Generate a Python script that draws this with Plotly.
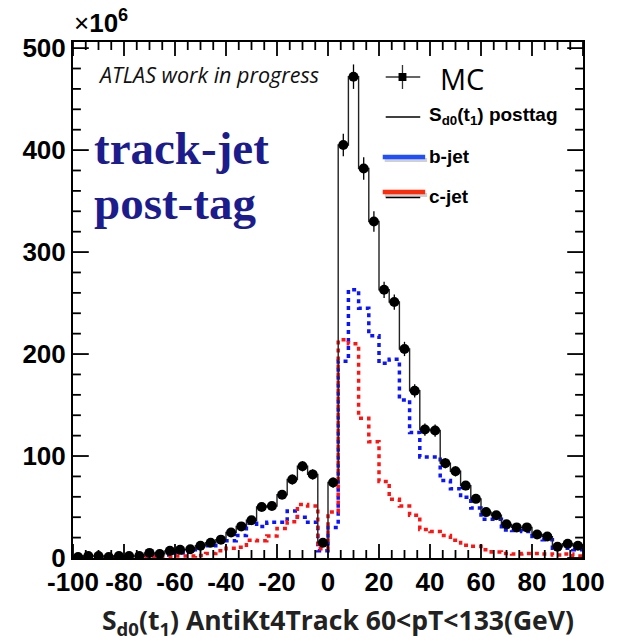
import plotly.graph_objects as go

# Binning of the S_d0(t1) distribution: 50 bins of width 4 between -100 and 100
bin_edges = list(range(-100, 101, 4))
bin_centers = [e + 2 for e in bin_edges[:-1]]

# Yields in units of 10^6
mc = [1, 2, 2, 1, 2, 2, 2, 5, 4, 7, 8, 8.5, 12, 15, 18, 25, 31, 37, 50, 51, 62, 77, 90, 82, 15,
      74, 405, 472, 382, 330, 263, 251, 205, 164, 126, 125, 93, 85, 71, 58, 45, 42, 33, 30, 30, 23, 21, 11, 14, 12]
mc_err = [0.5, 0.5, 0.5, 0.5, 0.5, 0.5, 0.5, 1, 1, 1, 1.5, 1.5, 2, 2, 2, 2.5, 3, 3, 4, 4, 4, 5, 5, 5, 2,
          5, 11, 12, 11, 10, 8, 7.5, 7, 6.5, 6, 6, 5, 5, 4.5, 4, 3.5, 3.5, 3, 3, 3, 2.5, 2.5, 2, 2, 2]
bjet = [1, 1, 1, 1, 1, 1, 1, 2, 2, 3, 5, 6, 11, 12, 17, 17, 22, 34, 31, 35, 35, 46, 40, 35, 7,
        30, 193, 263, 245, 218, 191, 195, 155, 123, 99, 99, 76, 68, 59.5, 49, 38, 38, 27.5, 27, 26, 21, 18, 9.5, 9.5, 8]
cjet = [0.5, 0.5, 0.5, 0.5, 0.5, 1, 1, 1, 1, 1, 2, 2, 2.5, 4.5, 7, 9.5, 10.5, 17.5, 17, 21.5, 29, 35.5, 52.5, 51, 9,
        45, 214, 210, 137, 114, 75, 57.5, 51, 42, 28, 26, 22, 17.5, 12.5, 11.5, 8, 6, 4.5, 4, 4.5, 4.5, 4, 3, 4, 2]

x_range = [-100, 100]
y_range = [0, 506]
x_ticks = [-100, -80, -60, -40, -20, 0, 20, 40, 60, 80, 100]
x_tick_text = ["-100", "-80", "-60", "-40", "-20", "0", "20", "40", "60", "80", "100"]
x_minor_step = 5
y_ticks = [0, 100, 200, 300, 400, 500]
y_tick_text = ["0", "100", "200", "300", "400", "500"]
y_minor_step = 20

BLUE = "#0a14ff"
RED = "#ff1414"
NAVY = "#1c1c8c"
TICK_COLOR = "black"

# frame of the plotting area in pixels (used to place texts and legend)
PX0, PX1, PY0, PY1 = 73, 590, 42, 558
W_PX, H_PX = PX1 - PX0, PY1 - PY0


def px(x):
    return (x - PX0) / W_PX


def py(y):
    return (PY1 - y) / H_PX


def step(vals):
    return vals + [vals[-1]]


fig = go.Figure()

fig.add_trace(go.Scatter(x=bin_edges, y=step(bjet), mode="lines", line_shape="hv",
                         line=dict(color=BLUE, width=3.5, dash="4px,4px"), name="b-jet"))
fig.add_trace(go.Scatter(x=bin_edges, y=step(cjet), mode="lines", line_shape="hv",
                         line=dict(color=RED, width=3.5, dash="4px,4px"), name="c-jet"))
fig.add_trace(go.Scatter(x=bin_edges, y=step(mc), mode="lines", line_shape="hv",
                         line=dict(color="#222222", width=1.4), name="posttag"))
fig.add_trace(go.Scatter(x=bin_centers, y=mc, mode="markers",
                         marker=dict(color="black", size=10, symbol="circle"),
                         error_y=dict(type="data", array=mc_err, visible=True,
                                      color="black", thickness=1.3, width=0),
                         name="MC"))

tick_font = dict(family="Liberation Sans", size=26, color="black", weight="bold")
common = dict(showline=True, linewidth=2, linecolor="black", mirror=True, ticks="",
              showgrid=False, zeroline=False, tickmode="array", tickfont=tick_font)

annotations = [
    dict(x=px(72), y=py(40), xanchor="left", yanchor="bottom",
         text="×<b>10<sup>6</sup></b>", font=dict(family="Liberation Sans", size=26, color="black")),
    dict(x=px(96), y=py(74), xanchor="left", yanchor="middle",
         text="<i>ATLAS work in progress</i>",
         font=dict(family="Open Sans", size=21.5, color="#111111")),
    dict(x=px(92), y=py(148), xanchor="left", yanchor="middle", text="<b>track-jet</b>",
         font=dict(family="Liberation Serif", size=47, color=NAVY)),
    dict(x=px(92), y=py(203), xanchor="left", yanchor="middle", text="<b>post-tag</b>",
         font=dict(family="Liberation Serif", size=47, color=NAVY)),
    dict(x=px(443), y=py(78), xanchor="left", yanchor="middle", text="MC",
         font=dict(family="Open Sans", size=29, color="black")),
    dict(x=px(432), y=py(116), xanchor="left", yanchor="middle",
         text="<b>S<sub>d0</sub>(t<sub>1</sub>) posttag</b>",
         font=dict(family="Liberation Sans", size=19, color="black")),
    dict(x=px(432), y=py(157), xanchor="left", yanchor="middle", text="<b>b-jet</b>",
         font=dict(family="Liberation Sans", size=19, color="black")),
    dict(x=px(432), y=py(196), xanchor="left", yanchor="middle", text="<b>c-jet</b>",
         font=dict(family="Liberation Sans", size=19, color="black")),
    dict(x=px(342), y=py(621), xanchor="center", yanchor="middle",
         text="<b>S<sub>d0</sub>(t<sub>1</sub>) AntiKt4Track 60&lt;pT&lt;133(GeV)</b>",
         font=dict(family="Open Sans", size=26.5, color="#222222")),
]
for a in annotations:
    a.update(xref="paper", yref="paper", showarrow=False)


def hline(x0, x1, y, color, width):
    return dict(type="line", xref="paper", yref="paper", x0=px(x0), x1=px(x1),
                y0=py(y), y1=py(y), line=dict(color=color, width=width))


shapes = [
    # MC legend marker with error cross
    hline(390, 425, 77, "#333333", 1.3),
    dict(type="line", xref="paper", yref="paper", x0=px(407), x1=px(407),
         y0=py(65), y1=py(89), line=dict(color="#333333", width=1.3)),
    dict(type="rect", xref="paper", yref="paper", x0=px(403), x1=px(411),
         y0=py(73), y1=py(81), fillcolor="black", line=dict(width=0)),
    # posttag line
    hline(390, 425, 117, "black", 1.3),
    # b-jet
    hline(389, 432, 160, "rgba(120,120,120,0.35)", 4),
    hline(387, 430, 157, "#1f4fff", 4.5),
    # c-jet
    hline(389, 432, 195, "rgba(120,120,120,0.35)", 4),
    hline(387, 430, 192, "#ff2a0a", 4.5),
    hline(390, 425, 197.5, "black", 1.3),
]

# inward tick marks (major and minor) on all four sides of the frame
for v in range(x_range[0], x_range[1] + 1, x_minor_step):
    ln = (14 if v in x_ticks else 8) / H_PX
    for y0, y1 in ((0, ln), (1, 1 - ln)):
        shapes.append(dict(type="line", xref="x", yref="paper", x0=v, x1=v, y0=y0, y1=y1,
                           line=dict(color=TICK_COLOR, width=1.8), layer="above"))
for v in range(y_ticks[0], y_ticks[-1] + 1, y_minor_step):
    ln = (16 if v in y_ticks else 8) / W_PX
    for x0, x1 in ((0, ln), (1, 1 - ln)):
        shapes.append(dict(type="line", xref="paper", yref="y", x0=x0, x1=x1, y0=v, y1=v,
                           line=dict(color=TICK_COLOR, width=1.8), layer="above"))

fig.update_layout(
    width=617, height=642,
    margin=dict(l=PX0, r=617 - PX1, t=PY0, b=642 - PY1),
    plot_bgcolor="white", paper_bgcolor="white", showlegend=False,
    xaxis=dict(range=x_range, tickvals=x_ticks, ticktext=x_tick_text, **common),
    yaxis=dict(range=y_range, tickvals=y_ticks, ticktext=y_tick_text, **common),
    annotations=annotations, shapes=shapes,
)

fig.write_html("out.html")
